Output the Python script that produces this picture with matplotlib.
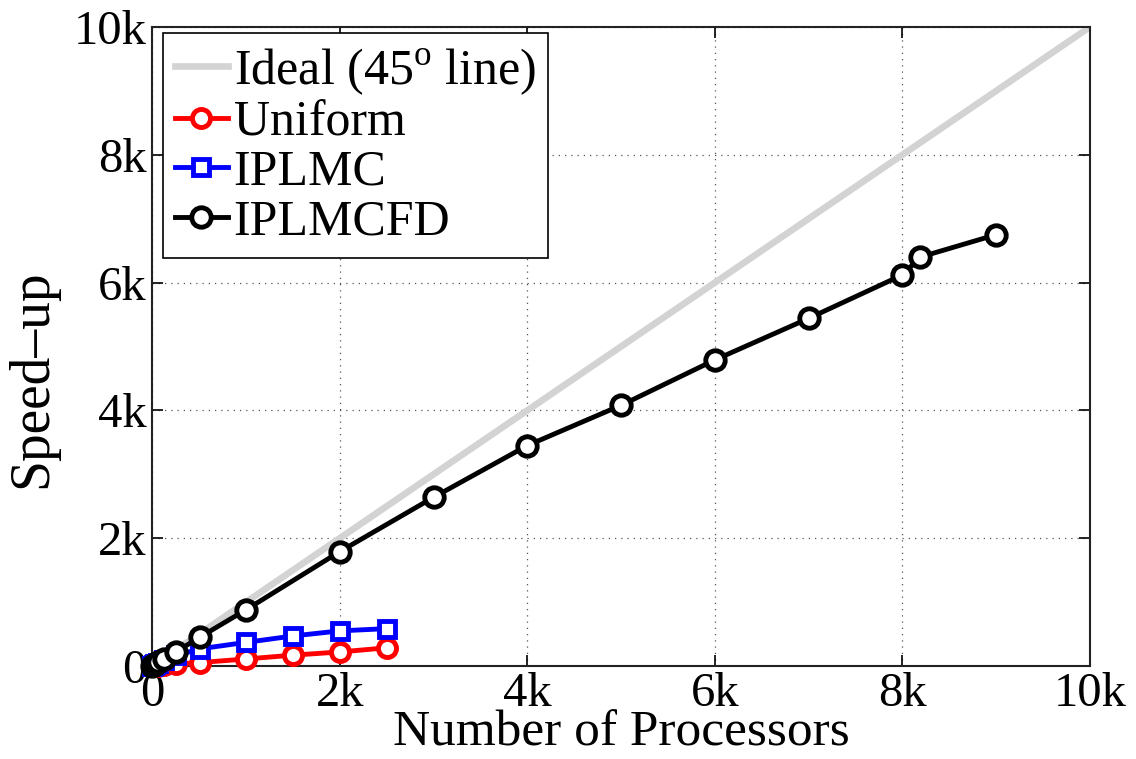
import matplotlib
matplotlib.use("Agg")
import matplotlib.pyplot as plt
from matplotlib.ticker import FuncFormatter

plt.rcParams["font.family"] = ["Liberation Serif", "DejaVu Serif"]
plt.rcParams["mathtext.fontset"] = "custom"
plt.rcParams["mathtext.rm"] = "Liberation Serif"

# Processor counts and measured speed-ups
ideal_x = [0, 10000]
ideal_y = [0, 10000]

uniform_procs = [0, 16, 32, 64, 128, 256, 512, 1000, 1500, 2000, 2500]
uniform_speedup = [0, 2, 4, 8, 15, 30, 55, 110, 170, 220, 285]

iplmc_procs = [0, 16, 32, 64, 128, 256, 512, 1000, 1500, 2000, 2500]
iplmc_speedup = [0, 12, 25, 48, 90, 165, 270, 370, 470, 550, 585]

iplmcfd_procs = [0, 16, 32, 64, 128, 256, 512, 1000, 2000, 3000, 4000,
                 5000, 6000, 7000, 8000, 8192, 9000]
iplmcfd_speedup = [0, 15, 30, 60, 115, 225, 455, 880, 1790, 2640, 3450,
                   4080, 4790, 5440, 6120, 6400, 6750]

tick_values = [0, 2000, 4000, 6000, 8000, 10000]


def k_fmt(v, pos):
    return "0" if v == 0 else f"{int(v / 1000)}k"


fig = plt.figure(figsize=(11.36, 7.59), dpi=100)
ax = fig.add_axes([0.134, 0.1225, 0.8255, 0.842])

ax.plot(ideal_x, ideal_y, color="#d3d3d3", lw=4.8,
        label=r"Ideal (45$^{\mathrm{o}}$ line)", zorder=2)
ax.plot(uniform_procs, uniform_speedup, color="#ff0000", lw=3.5, marker="o", ms=13,
        mfc="white", mew=3.5, label="Uniform", zorder=3, clip_on=False)
ax.plot(iplmc_procs, iplmc_speedup, color="#0000ff", lw=3.5, marker="s", ms=11,
        mfc="white", mew=3.5, label="IPLMC", zorder=3, clip_on=False)
ax.plot(iplmcfd_procs, iplmcfd_speedup, color="black", lw=3.5, marker="o", ms=14,
        mfc="white", mew=3.5, label="IPLMCFD", zorder=4, clip_on=False)

ax.set_xlim(0, 10000)
ax.set_ylim(0, 10000)
ax.set_xticks(tick_values)
ax.set_yticks(tick_values)
ax.xaxis.set_major_formatter(FuncFormatter(k_fmt))
ax.yaxis.set_major_formatter(FuncFormatter(k_fmt))
ax.tick_params(direction="in", length=8, width=1.2, labelsize=35, top=True, right=True,
               pad=4)
ax.grid(True, linestyle=(0, (1, 4)), color="#555555", lw=0.9)
for s in ax.spines.values():
    s.set_linewidth(1.5)
    s.set_color("#222222")

ax.set_xlabel("Number of Processors", fontsize=37, labelpad=-4)
ax.set_ylabel("Speed\u2013up", fontsize=40)
ax.yaxis.set_label_coords(-0.1, 0.45)

leg = ax.legend(loc="upper left", bbox_to_anchor=(0.011, 0.99), borderaxespad=0,
                fontsize=36, handlelength=1.05, handletextpad=0.12,
                borderpad=0.25, labelspacing=0.06, fancybox=False, framealpha=1,
                edgecolor="black")
leg.get_frame().set_linewidth(1.2)

fig.savefig("out.png", dpi=100, facecolor="white")
